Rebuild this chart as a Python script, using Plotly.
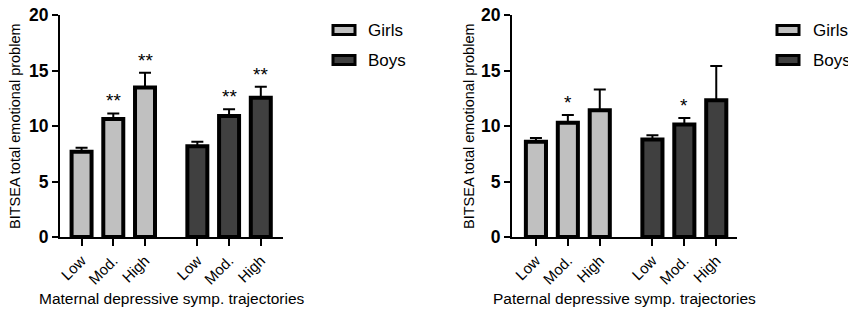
import plotly.graph_objects as go

# ---- data ----
levels = ["Low", "Mod.", "High"]
girls_pos = [0, 1, 2]
boys_pos = [3.65, 4.65, 5.65]

mat_girls = [7.67, 10.62, 13.47]
mat_girls_err = [0.36, 0.51, 1.33]
mat_boys = [8.18, 10.89, 12.54]
mat_boys_err = [0.39, 0.63, 0.99]
mat_girls_sig = ["", "**", "**"]
mat_boys_sig = ["", "**", "**"]

pat_girls = [8.57, 10.29, 11.43]
pat_girls_err = [0.36, 0.69, 1.86]
pat_boys = [8.78, 10.14, 12.33]
pat_boys_err = [0.39, 0.57, 3.07]
pat_girls_sig = ["", "*", ""]
pat_boys_sig = ["", "*", ""]

y_ticks = [0, 5, 10, 15, 20]
y_title = "BITSEA total emotional problem"
x_titles = ["Maternal depressive symp. trajectories", "Paternal depressive symp. trajectories"]
series_names = ["Girls", "Boys"]
colors = ["#c0c0c0", "#404040"]

FONT = "Liberation Sans, Arial, sans-serif"
W, H = 856, 309
OFF = 8  # default body margin of the html page (figure starts at page pixel 8,8)


def px(x):
    return (x - OFF) / W


def py(y):
    return 1 - (y - OFF) / H


fig = go.Figure()

panels = [
    (mat_girls, mat_girls_err, mat_boys, mat_boys_err, mat_girls_sig, mat_boys_sig, "x", "y"),
    (pat_girls, pat_girls_err, pat_boys, pat_boys_err, pat_girls_sig, pat_boys_sig, "x2", "y2"),
]

for (g, ge, b, be, gs, bs, xa, ya) in panels:
    for name, pos, vals, errs, col in [
        (series_names[0], girls_pos, g, ge, colors[0]),
        (series_names[1], boys_pos, b, be, colors[1]),
    ]:
        fig.add_trace(go.Bar(
            x=pos, y=vals, name=name, xaxis=xa, yaxis=ya, width=0.63,
            marker=dict(color=col, line=dict(color="black", width=4)),
            error_y=dict(type="data", array=errs, arrayminus=[0] * len(errs),
                         symmetric=False, color="black", thickness=2, width=6),
            showlegend=False,
        ))
    for pos, vals, errs, sig in [(girls_pos, g, ge, gs), (boys_pos, b, be, bs)]:
        for p, v, e, s in zip(pos, vals, errs, sig):
            if s:
                fig.add_annotation(x=p, y=v + e, xref=xa, yref=ya, text=s,
                                   showarrow=False, yanchor="bottom", yshift=0,
                                   font=dict(family=FONT, size=19, color="black"))

left_dom = [px(60), px(283)]
right_dom = [px(512), px(737)]
ydom = [py(237), py(15)]

axis_common = dict(showline=True, linecolor="black", linewidth=2, ticks="outside",
                   tickcolor="black", tickwidth=2, showgrid=False, zeroline=False,
                   automargin=False)

xt = girls_pos + boys_pos
xl = levels + levels
xtick_font = dict(size=15, family=FONT)
ytick_font = dict(size=17.5, family=FONT, weight="bold")
fig.update_layout(
    width=W, height=H, margin=dict(l=0, r=0, t=0, b=0, autoexpand=False),
    paper_bgcolor="white", plot_bgcolor="white", barmode="overlay",
    font=dict(family=FONT, color="black"),
    xaxis=dict(domain=left_dom, range=[-0.68, 6.35], tickvals=xt, ticktext=xl,
               tickangle=-45, ticklen=7, tickfont=xtick_font, anchor="y", **axis_common),
    yaxis=dict(domain=ydom, range=[0, 20], tickvals=y_ticks, ticklen=6, anchor="x",
               tickfont=ytick_font, ticklabeloverflow="allow", **axis_common),
    xaxis2=dict(domain=right_dom, range=[-0.75, 6.3], tickvals=xt, ticktext=xl,
                tickangle=-45, ticklen=7, tickfont=xtick_font, anchor="y2", **axis_common),
    yaxis2=dict(domain=ydom, range=[0, 20], tickvals=y_ticks, ticklen=6, anchor="x2",
                tickfont=ytick_font, ticklabeloverflow="allow", **axis_common),
)

# axis titles
for cx, ttl in [(171.5, x_titles[0]), (624.5, x_titles[1])]:
    fig.add_annotation(xref="paper", yref="paper", x=px(cx), y=py(298), text=ttl,
                       showarrow=False, xanchor="center", yanchor="middle",
                       font=dict(family=FONT, size=15.5, color="black"))
for cx in [15, 469]:
    fig.add_annotation(xref="paper", yref="paper", x=px(cx), y=py(126), text=y_title,
                       showarrow=False, xanchor="center", yanchor="middle", textangle=-90,
                       font=dict(family=FONT, size=14.5, color="black"))

# custom legends (swatches + labels)
for lx, tx in [(333, 366), (777, 811)]:
    for i, (name, col) in enumerate(zip(series_names, colors)):
        cy = 30 + 30 * i
        fig.add_shape(type="rect", xref="paper", yref="paper",
                      x0=px(lx), x1=px(lx + 22), y0=py(cy + 4.5), y1=py(cy - 4.5),
                      fillcolor=col, line=dict(color="black", width=3))
        fig.add_annotation(xref="paper", yref="paper", x=px(tx), y=py(cy), text=name,
                           showarrow=False, xanchor="left", yanchor="middle",
                           font=dict(family=FONT, size=17, color="black"))

fig.write_html("out.html")
